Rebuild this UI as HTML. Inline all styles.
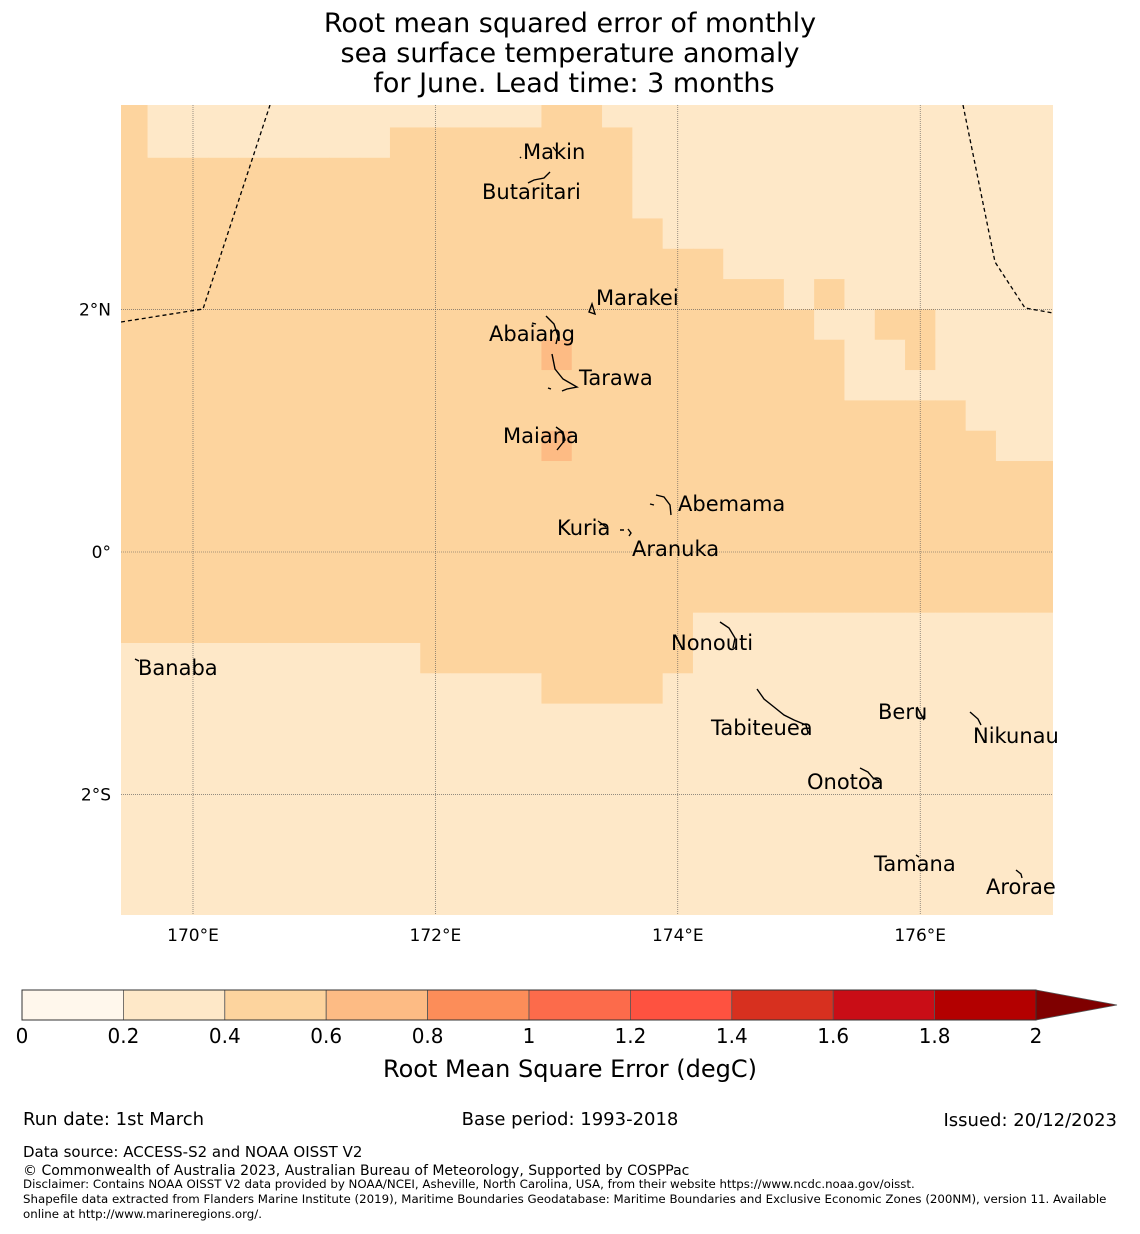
<!DOCTYPE html>
<html><head><meta charset="utf-8">
<style>
body{margin:0;background:#fff;width:1140px;height:1230px;overflow:hidden;font-family:"DejaVu Sans","Liberation Sans",sans-serif}
svg text{font-family:"DejaVu Sans","Liberation Sans",sans-serif}
</style></head>
<body>
<svg id="chart" width="1140" height="1230" viewBox="0 0 1140 1230" xmlns="http://www.w3.org/2000/svg">
<g font-size="27" text-anchor="middle" fill="#000">
<text x="570" y="32">Root mean squared error of monthly</text>
<text x="570" y="62">sea surface temperature anomaly</text>
<text x="574" y="92">for June. Lead time: 3 months</text>
</g>
<defs><clipPath id="mapclip"><rect x="121" y="105" width="932" height="810"/></clipPath></defs>
<g id="map" clip-path="url(#mapclip)">
<g id="cells"></g>
<g id="grid" stroke="#555" stroke-width="0.6" stroke-dasharray="1,1" fill="none"></g>
<g stroke="#000" stroke-width="1.3" stroke-dasharray="4,3" fill="none">
<polyline points="121,322 203,309 270,105"/>
<polyline points="963,105 995,262 1025,308 1053,313"/>
</g>
<g stroke="#000" stroke-width="1.4" fill="none">
<path d="M553,147 l4,5 M520,157 l1,1 M528,183 l6,-3 l10,-2 l6,-6"/>
<path d="M589,312 l3,-8 l3,10 z"/>
<path d="M546,316 l8,8 l4,12 l-2,8 M532,323 l4,1"/>
<path d="M552,354 l3,15 l8,10 l14,8 l-10,2 l-5,2 M548,388 l3,1"/>
<path d="M556,427 l7,5 l2,8 l-8,10"/>
<path d="M656,495 l8,2 l6,8 l1,10 M650,504 l4,1"/>
<path d="M598,521 l8,6 M620,530 l4,0 M628,529 l3,4 l-2,3"/>
<path d="M720,622 l9,6 l6,10 l-2,10"/>
<path d="M135,659 l4,2"/>
<path d="M757,689 l7,10 l10,8 l10,8 l10,5 l12,5 l2,8"/>
<path d="M917,707 l7,13"/>
<path d="M970,712 l8,7 l3,6"/>
<path d="M860,768 l8,4 l5,6 l6,3"/>
<path d="M916,855 l3,2"/>
<path d="M1016,870 l5,4 l1,4"/>
</g>
</g>
<g font-size="21" fill="#000">
<text x="523" y="159">Makin</text>
<text x="482" y="199">Butaritari</text>
<text x="596" y="305">Marakei</text>
<text x="489" y="341">Abaiang</text>
<text x="579" y="385">Tarawa</text>
<text x="503" y="443">Maiana</text>
<text x="678" y="511">Abemama</text>
<text x="557" y="535">Kuria</text>
<text x="632" y="556">Aranuka</text>
<text x="671" y="650">Nonouti</text>
<text x="138" y="675">Banaba</text>
<text x="711" y="735">Tabiteuea</text>
<text x="878" y="719">Beru</text>
<text x="973" y="743">Nikunau</text>
<text x="807" y="789">Onotoa</text>
<text x="874" y="871">Tamana</text>
<text x="986" y="894">Arorae</text>
</g>
<g id="axislabels" font-size="17" fill="#000"></g>
<g id="cbar"></g>
<text x="570" y="1077" text-anchor="middle" font-size="24">Root Mean Square Error (degC)</text>
<g fill="#000">
<text x="23" y="1125" font-size="18">Run date: 1st March</text>
<text x="570" y="1125" font-size="18" text-anchor="middle">Base period: 1993-2018</text>
<text x="1117" y="1126" font-size="18" text-anchor="end">Issued: 20/12/2023</text>
<text x="23" y="1157" font-size="15">Data source: ACCESS-S2 and NOAA OISST V2</text>
<text x="23" y="1175" font-size="14">© Commonwealth of Australia 2023, Australian Bureau of Meteorology, Supported by COSPPac</text>
<text x="23" y="1188" font-size="11.8">Disclaimer: Contains NOAA OISST V2 data provided by NOAA/NCEI, Asheville, North Carolina, USA, from their website https://www.ncdc.noaa.gov/oisst.</text>
<text x="23" y="1203" font-size="11.8">Shapefile data extracted from Flanders Marine Institute (2019), Maritime Boundaries Geodatabase: Maritime Boundaries and Exclusive Economic Zones (200NM), version 11. Available</text>
<text x="23" y="1218" font-size="11.8">online at http://www.marineregions.org/.</text>
</g>
</svg>
<script>
// grid: 31 columns from lon 169.375 step 0.25, 27 rows from lat 3.75 step -0.25
const lonStart = 169.375, latStart = 3.75, step = 0.25;
// values per row, encoded as runs [value, count]
const rowRuns = [
 [[0.5,1],[0.3,13],[0.5,2],[0.3,15]],
 [[0.5,1],[0.3,8],[0.5,8],[0.3,14]],
 [[0.5,17],[0.3,14]],
 [[0.5,17],[0.3,14]],
 [[0.5,18],[0.3,13]],
 [[0.5,20],[0.3,11]],
 [[0.5,22],[0.3,1],[0.5,1],[0.3,7]],
 [[0.5,23],[0.3,2],[0.5,2],[0.3,4]],
 [[0.5,14],[0.65,1],[0.5,9],[0.3,2],[0.5,1],[0.3,4]],
 [[0.5,24],[0.3,7]],
 [[0.5,28],[0.3,3]],
 [[0.5,14],[0.65,1],[0.5,14],[0.3,2]],
 [[0.5,31]],[[0.5,31]],[[0.5,31]],[[0.5,31]],[[0.5,31]],
 [[0.5,19],[0.3,12]],
 [[0.3,10],[0.5,9],[0.3,12]],
 [[0.3,14],[0.5,4],[0.3,13]],
 [[0.3,31]],[[0.3,31]],[[0.3,31]],[[0.3,31]],[[0.3,31]],[[0.3,31]],[[0.3,31]]
];
const levels = [0,0.2,0.4,0.6,0.8,1,1.2,1.4,1.6,1.8,2];
const levelColors = ["#fff7ec","#fee8c8","#fdd49e","#fdbb84","#fc8d59","#fc6b4b","#fe5240","#d7301f","#c90d16","#b30000"];
const extendColor = "#7f0000";
const lonTicks = [170,172,174,176];
const lonTickLabels = ["170°E","172°E","174°E","176°E"];
const latTicks = [2,0,-2];
const latTickLabels = ["2°N","0°","2°S"];
const cbarTickLabels = ["0","0.2","0.4","0.6","0.8","1","1.2","1.4","1.6","1.8","2"];

const NS="http://www.w3.org/2000/svg";
const X = lon => 193 + (lon-170)*121.2;
const Y = lat => 552 - lat*121.3;
function colorFor(v){for(let i=0;i<levelColors.length;i++){if(v<levels[i+1])return levelColors[i];}return extendColor;}
function mk(tag,attrs,parent){const e=document.createElementNS(NS,tag);for(const k in attrs)e.setAttribute(k,attrs[k]);parent.appendChild(e);return e;}

const cells=document.getElementById('cells');
rowRuns.forEach((runs,r)=>{
  let c=0;
  const lat0=latStart-r*step, lat1=lat0-step;
  runs.forEach(([v,n])=>{
    for(let k=0;k<n;k++,c++){
      const lon0=lonStart+c*step;
      const x0=X(lon0), x1=X(lon0+step);
      const el=mk('rect',{x:x0,y:Y(lat0),width:x1-x0+0.5,height:Y(lat1)-Y(lat0)+0.5,fill:colorFor(v)},cells);
      
      
    }
  });
});
const grid=document.getElementById('grid');
lonTicks.forEach(l=>{const e=mk('line',{x1:X(l),x2:X(l),y1:105,y2:915},grid);

});
latTicks.forEach(l=>{const e=mk('line',{x1:121,x2:1053,y1:Y(l),y2:Y(l)},grid);

});
const al=document.getElementById('axislabels');
lonTicks.forEach((l,i)=>{const t=mk('text',{x:X(l),y:941,'text-anchor':'middle'},al);t.textContent=lonTickLabels[i];

});
latTicks.forEach((l,i)=>{const t=mk('text',{x:111,y:Y(l)+6,'text-anchor':'end'},al);t.textContent=latTickLabels[i];

});

const cb=document.getElementById('cbar');
const cx0=22,cx1=1036,cy=990,ch=30;
const CX=v=>cx0+(v-levels[0])/(levels[levels.length-1]-levels[0])*(cx1-cx0);
levelColors.forEach((col,i)=>{const r=mk('rect',{x:CX(levels[i]),y:cy,width:CX(levels[i+1])-CX(levels[i]),height:ch,fill:col,stroke:'#555','stroke-width':0.8},cb);

});
const arr=mk('polygon',{points:`${cx1},${cy} ${cx1+81},${cy+ch/2} ${cx1},${cy+ch}`,fill:extendColor,stroke:'#555','stroke-width':0.8},cb);


mk('rect',{x:cx0,y:cy,width:cx1-cx0,height:ch,fill:'none',stroke:'#333','stroke-width':1},cb);
levels.forEach((v,i)=>{const t=mk('text',{x:CX(v),y:1043,'text-anchor':'middle','font-size':20},cb);t.textContent=cbarTickLabels[i];

});
</script>
</body></html>
